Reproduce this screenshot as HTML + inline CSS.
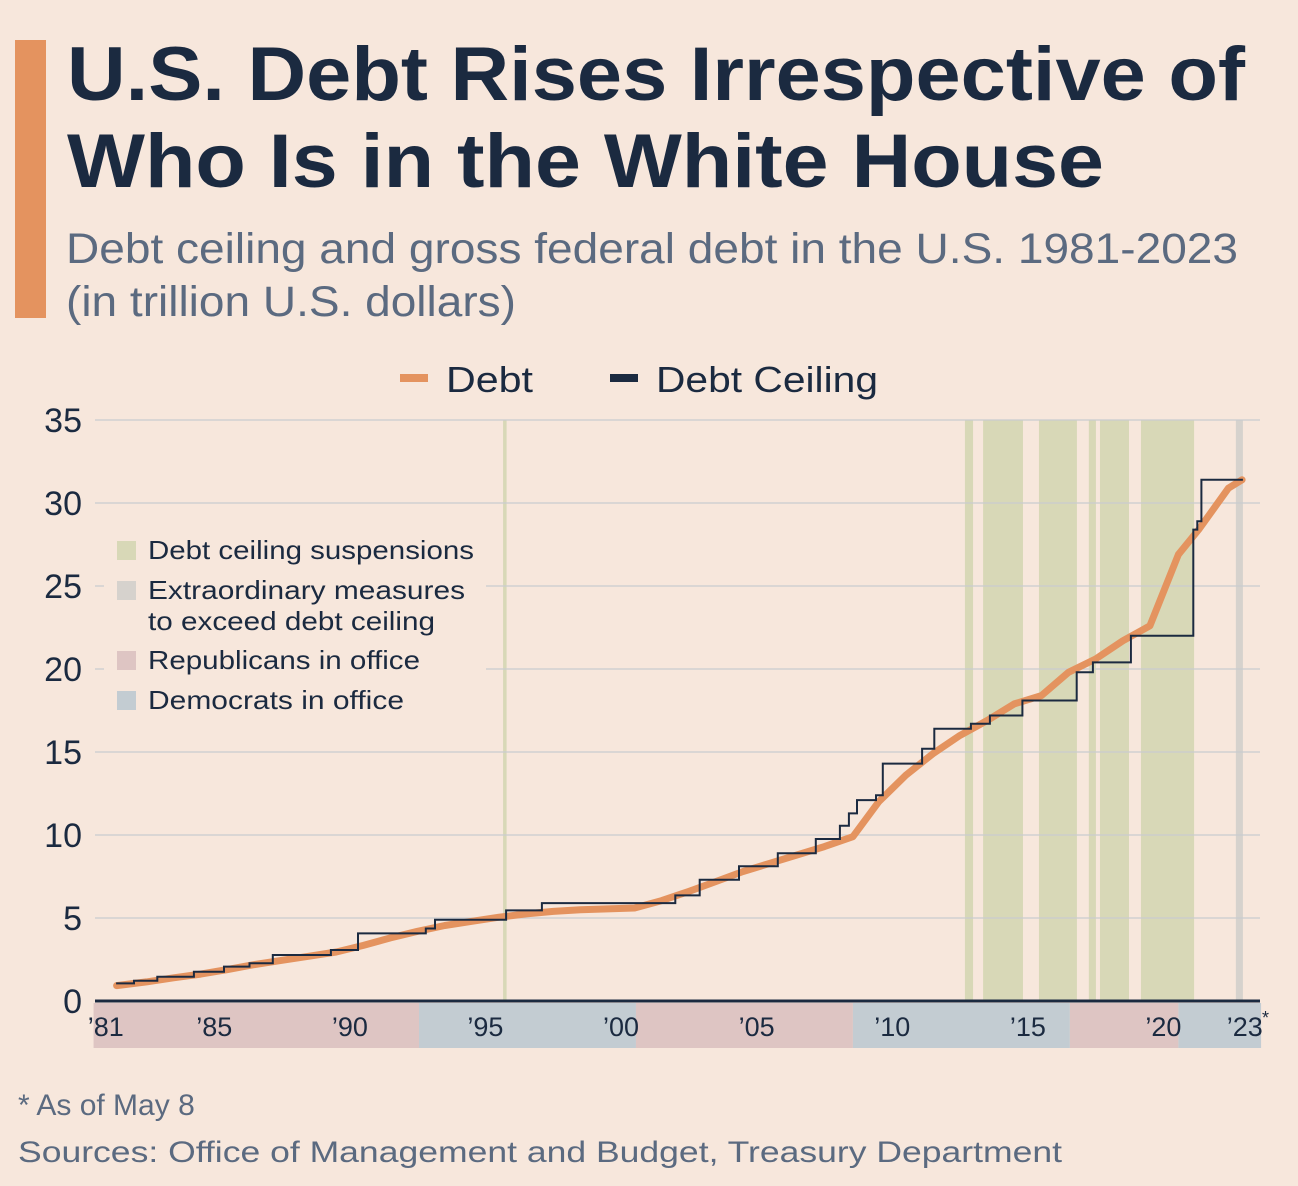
<!DOCTYPE html>
<html><head><meta charset="utf-8"><style>
html,body{margin:0;padding:0;background:#f7e7dc;}
svg{display:block;font-family:"Liberation Sans",sans-serif;}
</style></head><body>
<svg id="chart" width="1298" height="1186" viewBox="0 0 1298 1186">
<rect x="0" y="0" width="1298" height="1186" fill="#f7e7dc"/>
<rect x="15" y="40" width="31" height="278" fill="#e4935f"/>
<text x="67" y="100" font-size="76" font-weight="bold" fill="#1b2a40" textLength="1178" lengthAdjust="spacingAndGlyphs">U.S. Debt Rises Irrespective of</text>
<text x="67" y="187" font-size="76" font-weight="bold" fill="#1b2a40" textLength="1037" lengthAdjust="spacingAndGlyphs">Who Is in the White House</text>
<text x="66" y="263" font-size="43" fill="#5b6a80" textLength="1172" lengthAdjust="spacingAndGlyphs">Debt ceiling and gross federal debt in the U.S. 1981-2023</text>
<text x="66" y="316" font-size="43" fill="#5b6a80" textLength="450" lengthAdjust="spacingAndGlyphs">(in trillion U.S. dollars)</text>
<g>
<rect x="400" y="374" width="28" height="8" fill="#e4935f"/>
<text x="446" y="392" font-size="36" fill="#1b2a40" textLength="87" lengthAdjust="spacingAndGlyphs">Debt</text>
<rect x="610" y="374" width="28" height="8" fill="#1b2a40"/>
<text x="656" y="392" font-size="36" fill="#1b2a40" textLength="222" lengthAdjust="spacingAndGlyphs">Debt Ceiling</text>
</g>
<g id="plot"></g>
<text x="18" y="1115" font-size="30" fill="#5b6a80">* As of May 8</text>
<text x="18" y="1162" font-size="30" fill="#5b6a80" textLength="1044" lengthAdjust="spacingAndGlyphs">Sources: Office of Management and Budget, Treasury Department</text>
</svg>
<script>
const yTicks=[0,5,10,15,20,25,30,35];
const xLabels=["’81","’85","’90","’95","’00","’05","’10","’15","’20","’23"];
const xLabelYears=[1981.5,1985.5,1990.5,1995.5,2000.5,2005.5,2010.5,2015.5,2020.5,2023.5];
const debtYears=[1981.9,1983,1984,1985,1986,1987,1988,1989,1990,1991,1992,1993,1994,1995,1996,1997,1998,1999,2000,2001,2002,2003,2004,2005,2006,2007,2008,2009.05,2010,2011,2012,2013,2014,2015,2016,2017,2018,2019,2020.0,2021.05,2021.8,2022.9,2023.4];
const debtValues=[0.93,1.15,1.4,1.62,1.9,2.2,2.45,2.7,2.95,3.35,3.8,4.2,4.55,4.8,5.05,5.25,5.4,5.5,5.55,5.6,6.05,6.6,7.2,7.8,8.3,8.8,9.3,9.9,12.0,13.6,14.9,16.0,16.9,17.9,18.4,19.8,20.6,21.7,22.6,26.9,28.4,30.9,31.4];
const ceilingYears=[1981.88,1982.54,1983.4,1984.75,1985.86,1986.8,1987.66,1989.8,1990.8,1993.3,1993.64,1996.26,1997.58,2002.5,2003.4,2004.85,2006.28,2007.68,2008.57,2008.9,2009.2,2009.9,2010.15,2011.6,2012.05,2013.4,2014.1,2015.3,2017.3,2017.9,2019.3,2021.6,2021.75,2021.9];
const ceilingValues=[1.06,1.22,1.46,1.76,2.07,2.27,2.77,3.07,4.07,4.37,4.9,5.46,5.9,6.36,7.3,8.12,8.9,9.76,10.56,11.3,12.1,12.4,14.3,15.2,16.4,16.7,17.2,18.1,19.8,20.4,22.0,28.4,28.9,31.4];
const ceilingEnd=2023.43;
const suspensionStarts=[1996.15,2013.18,2013.85,2015.91,2017.75,2018.16,2019.67];
const suspensionEnds=[1996.28,2013.48,2015.32,2017.31,2018.01,2019.23,2021.63];
const extraStarts=[2023.17];
const extraEnds=[2023.43];
const termStarts=[1981.05,1993.05,2001.05,2009.05,2017.05,2021.05];
const termEnds=[1993.05,2001.05,2009.05,2017.05,2021.05,2024.1];
const termParty=["R","D","R","D","R","D"];

const NS="http://www.w3.org/2000/svg";
const plot=document.getElementById('plot');
const X0=95,X1=1260;
function x(t){return 419+(t-1993.05)*27.12;}
function y(v){return 1001-v*16.6;}
function mk(tag,attrs,parent){const e=document.createElementNS(NS,tag);for(const k in attrs)e.setAttribute(k,attrs[k]);(parent||plot).appendChild(e);return e;}

for(let i=0;i<suspensionStarts.length;i++){
  const r=mk('rect',{x:x(suspensionStarts[i]),y:420,width:x(suspensionEnds[i])-x(suspensionStarts[i]),height:581,fill:'#d8d8b7'});
  
  
}
for(let i=0;i<extraStarts.length;i++){
  const r=mk('rect',{x:x(extraStarts[i]),y:420,width:x(extraEnds[i])-x(extraStarts[i]),height:581,fill:'#d6d2cd'});
  
  
}
yTicks.forEach(v=>{
  const l=mk('line',{x1:X0,x2:X1,y1:y(v),y2:y(v),stroke:v===0?'#1b2a40':'#c9ccd0','stroke-width':v===0?3:1.2});
  
  
  const t=mk('text',{x:82,y:y(v)+12,'text-anchor':'end','font-size':34,fill:'#1b2a40'});
  t.textContent=v;
  
  
});
for(let i=0;i<termStarts.length;i++){
  const r=mk('rect',{x:x(termStarts[i]),y:1003,width:x(termEnds[i])-x(termStarts[i]),height:45,fill:termParty[i]==='R'?'#dec5c3':'#c3ccd2'});
  
  
}
xLabels.forEach((s,i)=>{
  const t=mk('text',{x:x(xLabelYears[i]),y:1036,'text-anchor':'middle','font-size':27,fill:'#1b2a40'});
  t.textContent=s;
  
  
});
const star=mk('text',{x:1262,y:1024,'font-size':18,fill:'#1b2a40'});star.textContent='*';



const lg=mk('g',{});


mk('rect',{x:104,y:535,width:382,height:180,fill:'#f7e7dc'},lg);
const legItems=[["Debt ceiling suspensions",550,'#d8d8b7',326],["Extraordinary measures",590,'#d6d2cd',317],["Republicans in office",660,'#dec5c3',272],["Democrats in office",700,'#c3ccd2',256]];
legItems.forEach(it=>{
  const s=mk('rect',{x:117,y:it[1]-9,width:19,height:19,fill:it[2]},lg);
  
  
  const t=mk('text',{x:148,y:it[1]+9,'font-size':26,fill:'#1b2a40',textLength:it[3],lengthAdjust:'spacingAndGlyphs'},lg);
  t.textContent=it[0];
  
  
});
const t2=mk('text',{x:148,y:630,'font-size':26,fill:'#1b2a40',textLength:287,lengthAdjust:'spacingAndGlyphs'},lg);t2.textContent='to exceed debt ceiling';



let d='';
debtYears.forEach((t,i)=>{d+=(i?'L':'M')+x(t).toFixed(1)+','+y(debtValues[i]).toFixed(1);});
const dl=mk('path',{d:d,fill:'none',stroke:'#e4935f','stroke-width':7,'stroke-linejoin':'round','stroke-linecap':'round'});


let c='';
ceilingYears.forEach((t,i)=>{
  if(i===0)c+='M'+x(t).toFixed(1)+','+y(ceilingValues[0]).toFixed(1);
  else c+='L'+x(t).toFixed(1)+','+y(ceilingValues[i-1]).toFixed(1)+'L'+x(t).toFixed(1)+','+y(ceilingValues[i]).toFixed(1);
});
c+='L'+x(ceilingEnd).toFixed(1)+','+y(ceilingValues[ceilingValues.length-1]).toFixed(1);
const cl=mk('path',{d:c,fill:'none',stroke:'#1b2a40','stroke-width':2});


</script>
</body></html>
